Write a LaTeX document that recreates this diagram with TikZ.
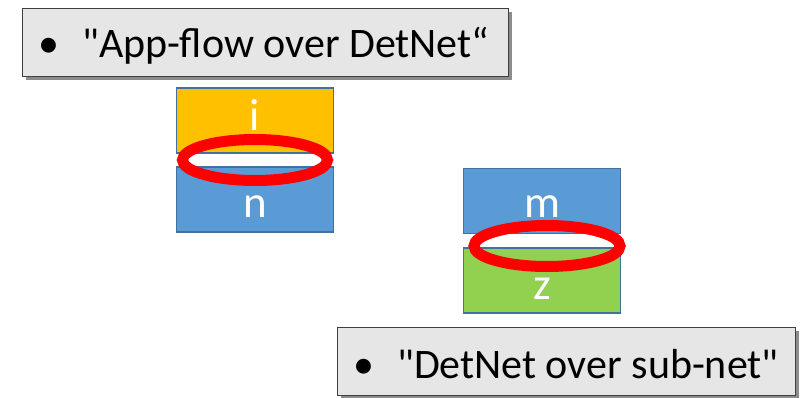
\documentclass[tikz,border=0pt]{standalone}
\usepackage{fontspec}
\setmainfont{Carlito}[Ligatures=TeXOff]
\definecolor{capfill}{RGB}{230,230,230}
\definecolor{capedge}{RGB}{64,64,64}
\definecolor{shade}{RGB}{140,140,140}
\definecolor{layeredge}{RGB}{65,113,156}
\definecolor{appcol}{RGB}{255,192,0}
\definecolor{netcol}{RGB}{91,155,213}
\definecolor{subcol}{RGB}{146,208,80}
\begin{document}
\begin{tikzpicture}[x=1pt,y=-1pt,
  capbox/.style={draw=capedge, line width=1.3pt, fill=capfill, anchor=north west, inner sep=0pt},
  captext/.style={anchor=base west, inner sep=0pt, font=\fontsize{42}{44}\selectfont},
  shadowbox/.style={fill=shade},
  layer/.style={draw=layeredge, line width=1.3pt, minimum width=157pt, minimum height=65pt, inner sep=0pt},
  tag/.style={anchor=base, inner sep=0pt, text=white, font=\fontsize{45}{47}\selectfont},
  ring/.style={draw=red, line width=11pt}]
\useasboundingbox (0,0) rectangle (800,398);
% caption boxes with drop shadow
\fill[shadowbox] (26,12) rectangle (512,80);
\node[capbox, minimum width=486pt, minimum height=68pt] (top) at (22,8) {};
\node[captext] (toptext) at (38,58) {\makebox[44pt][l]{\textbullet}"App-flow over DetNet“};
\fill[shadowbox] (341,331) rectangle (799,398);
\node[capbox, minimum width=458pt, minimum height=68pt] (bot) at (337,327) {};
\node[captext] (bottext) at (353,378) {\makebox[44pt][l]{\textbullet}"DetNet over sub-net"};
% left stack: application over DetNet
\node[layer, fill=appcol] (i) at (255,120.5) {};
\node[layer, fill=netcol] (n) at (255,199.5) {};
\node[tag] (itag) at (255,131) {i};
\node[tag] (ntag) at (255,217) {n};
% right stack: DetNet over sub-network
\node[layer, fill=netcol] (m) at (542,201) {};
\node[layer, fill=subcol] (z) at (542,280.5) {};
\node[tag] (mtag) at (542,218) {m};
\node[tag] (ztag) at (542,299) {z};
% interface rings
\draw[ring] (255,160) ellipse [x radius=72.5, y radius=20.5];
\draw[ring] (547,246) ellipse [x radius=73, y radius=20.5];
\end{tikzpicture}
\end{document}
